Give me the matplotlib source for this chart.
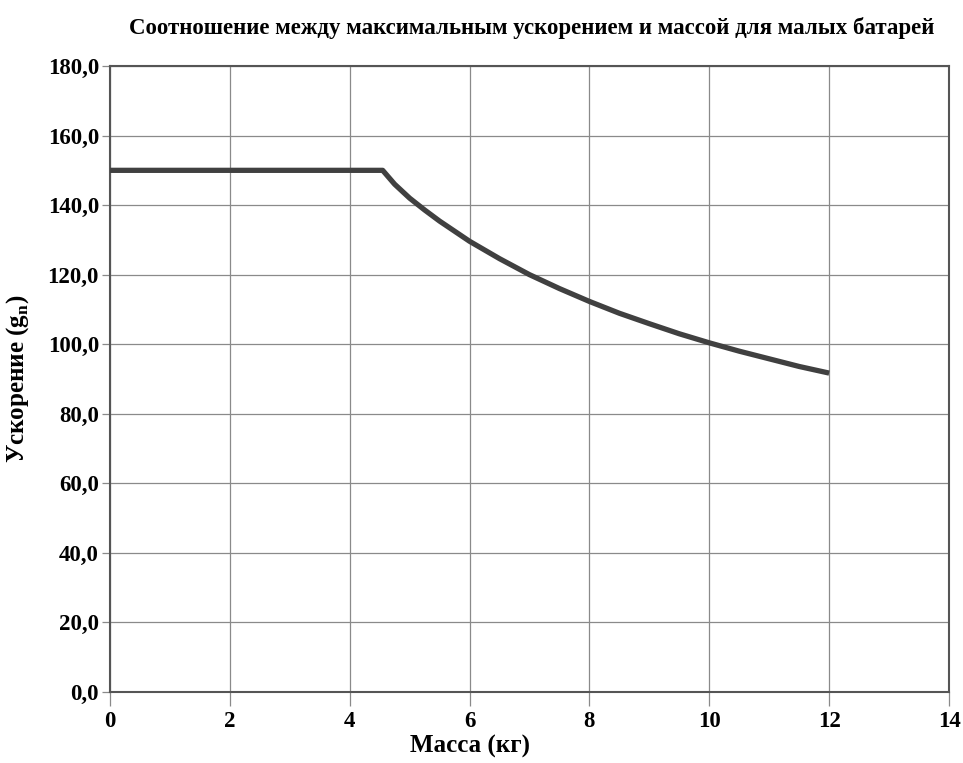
import numpy as np
import matplotlib.pyplot as plt

plt.rcParams['font.family'] = ['Liberation Serif', 'DejaVu Serif']
plt.rcParams['font.weight'] = 'bold'
plt.rcParams['mathtext.fontset'] = 'custom'
plt.rcParams['mathtext.rm'] = 'Liberation Serif:bold'

# data
mass = [0, 4.55, 4.75, 5, 5.25, 5.5, 6, 6.5, 7, 7.5, 8, 8.5, 9, 9.5, 10, 10.5, 11, 11.5, 12]
accel = [150, 150, 146.0, 142.0, 138.6, 135.4, 129.6, 124.6, 120.0, 116.0, 112.3, 108.9,
         105.9, 103.0, 100.4, 98.0, 95.8, 93.6, 91.7]

x_ticks = [0, 2, 4, 6, 8, 10, 12, 14]
y_ticks = [0, 20, 40, 60, 80, 100, 120, 140, 160, 180]

fig = plt.figure(figsize=(9.63, 7.63), dpi=100)
ax = fig.add_axes([110 / 963, 1 - 692 / 763, (949 - 110) / 963, (692 - 66) / 763])

ax.plot(mass, accel, color='#404040', lw=3.8, solid_capstyle='butt', zorder=3)

ax.set_xlim(0, 14)
ax.set_ylim(0, 180)
ax.set_xticks(x_ticks)
ax.set_yticks(y_ticks)
ax.set_xticklabels([str(v) for v in x_ticks])
ax.set_yticklabels([f"{v:.1f}".replace('.', ',') for v in y_ticks])
ax.grid(True, color='#8a8a8a', lw=0.9)
ax.set_axisbelow(True)
for s in ax.spines.values():
    s.set_color('#555555')
    s.set_linewidth(1.5)
ax.tick_params(axis='y', length=6, width=0.9, color='#8a8a8a', labelsize=16.5, pad=2)
ax.tick_params(axis='x', length=10, width=0.9, color='#8a8a8a', labelsize=16.5, pad=4)

fig.text(470 / 963, 1 - 746 / 763, 'Масса (кг)', ha='center', va='center',
         fontsize=18, fontweight='bold')
fig.text(18 / 963, 1 - 379 / 763, 'Ускорение (g$_{\\mathregular{n}}$)', ha='center', va='center',
         rotation=90, fontsize=18, fontweight='bold')

fig.text(532 / 963, 1 - 28 / 763, 'Соотношение между максимальным ускорением и массой для малых батарей',
         ha='center', va='center', fontsize=16.5, fontweight='bold')

fig.savefig('out.png', dpi=100)
